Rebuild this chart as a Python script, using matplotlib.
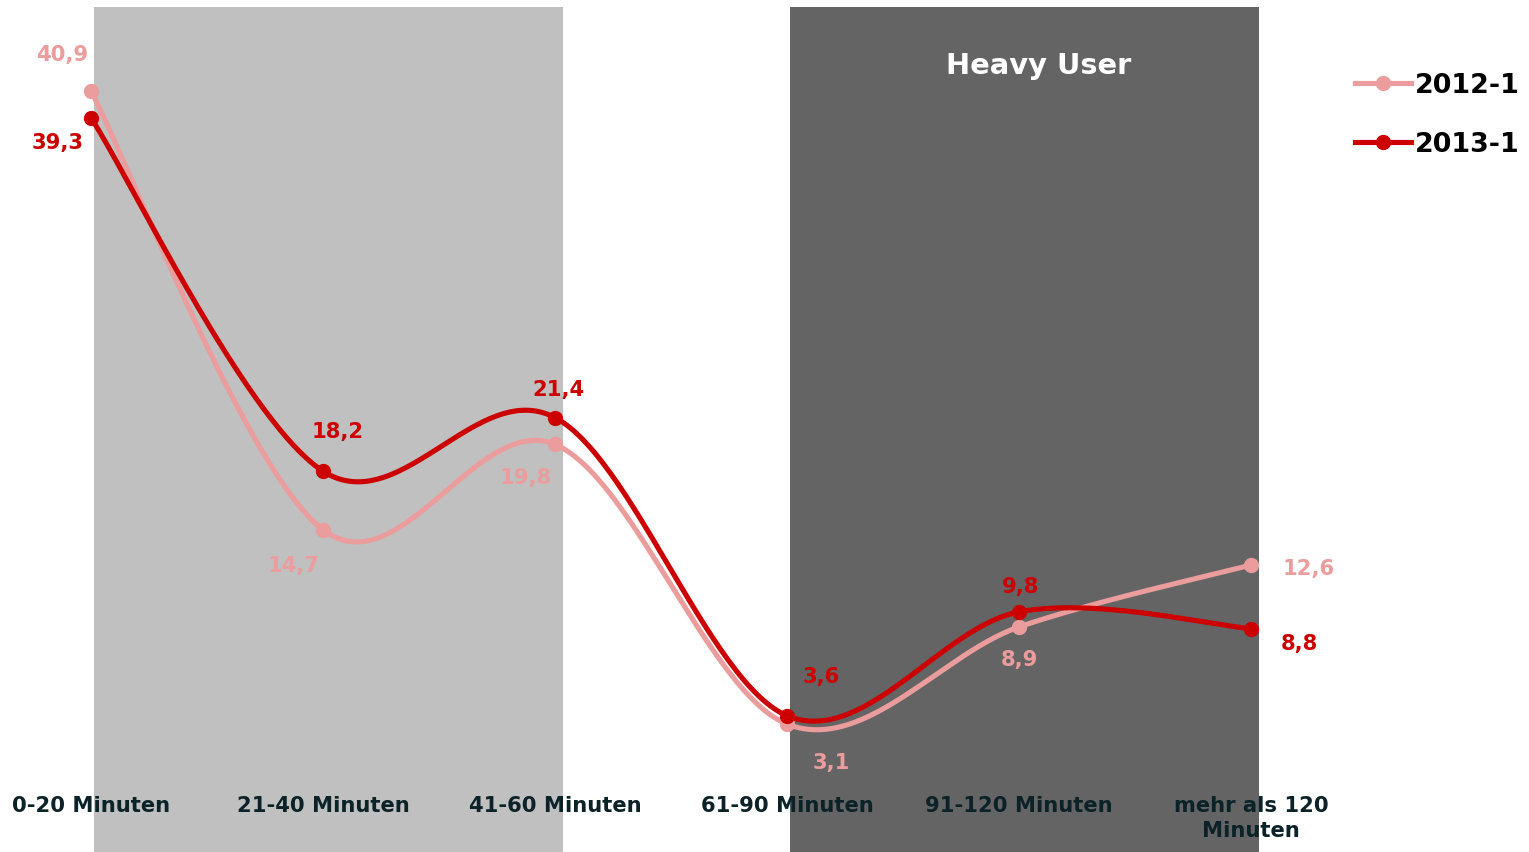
import numpy as np
import matplotlib
matplotlib.use("Agg")
import matplotlib.pyplot as plt
from matplotlib.lines import Line2D

plt.rcParams['font.family'] = ['DejaVu Sans']

categories = ["0-20 Minuten", "21-40 Minuten", "41-60 Minuten",
              "61-90 Minuten", "91-120 Minuten", "mehr als 120\nMinuten"]
series_2012 = [40.9, 14.7, 19.8, 3.1, 8.9, 12.6]
series_2013 = [39.3, 18.2, 21.4, 3.6, 9.8, 8.8]
series_names = ["2012-1", "2013-1"]

C12 = "#eb9c9c"
C13 = "#cc0000"
TICK_C = "#0b2228"


def smooth(xs, ys, n=60):
    """Cubic Bezier smoothing through every point (Catmull-Rom style, tension 1/6)."""
    P = np.column_stack([xs, ys]).astype(float)
    out = []
    m = len(P)
    for i in range(m - 1):
        p0 = P[i - 1] if i > 0 else P[i]
        p1, p2 = P[i], P[i + 1]
        p3 = P[i + 2] if i + 2 < m else P[i + 1]
        c1 = p1 + (p2 - p0) / 6.0
        c2 = p2 - (p3 - p1) / 6.0
        t = np.linspace(0, 1, n)[:, None]
        seg = ((1 - t) ** 3) * p1 + 3 * ((1 - t) ** 2) * t * c1 \
            + 3 * (1 - t) * t ** 2 * c2 + t ** 3 * p2
        out.append(seg if i == 0 else seg[1:])
    return np.vstack(out)


fig = plt.figure(figsize=(15.29, 8.52), dpi=100)
ax = fig.add_axes([0, 0, 1, 1])
ax.set_xlim(-0.392, 6.198)
ax.set_ylim(-4.537, 46.33)
for s in ax.spines.values():
    s.set_visible(False)
ax.set_yticks([])

x = np.arange(len(categories))

# background bands
ax.axvspan(0.013, 2.034, ymin=0, ymax=0.9918, color="#c0c0c0", lw=0, zorder=0)
ax.axvspan(3.013, 5.034, ymin=0, ymax=0.9918, color="#646464", lw=0, zorder=0)
ax.text(4.086, 0.922, "Heavy User", transform=ax.get_xaxis_transform(),
        ha="center", va="center", color="white", fontsize=20.8, fontweight="bold")

for ys, col, z in [(series_2012, C12, 3), (series_2013, C13, 4)]:
    curve = smooth(x, ys)
    ax.plot(curve[:, 0], curve[:, 1], color=col, lw=3.7, solid_capstyle="round", zorder=z)
    ax.plot(x, ys, ls="none", marker="o", ms=10, color=col, zorder=z + 0.5)

# value labels (offsets in pixels)
off_2012 = [(-29, 36), (-29, -36), (-29, -34), (44, -39), (0, -33), (58, -4)]
off_2013 = [(-33, -25), (15, 39), (3, 28), (34, 39), (2, 25), (48, -15)]
for ys, offs, col in [(series_2012, off_2012, C12), (series_2013, off_2013, C13)]:
    for xi, yi, (dx, dy) in zip(x, ys, offs):
        ax.annotate(f"{yi:.1f}".replace(".", ","), (xi, yi), xytext=(dx, dy),
                    textcoords="offset pixels", ha="center", va="center",
                    color=col, fontsize=15.2, fontweight="bold", zorder=6)

# category axis
ax.set_xticks(x)
ax.set_xticklabels(categories, fontsize=15.2, fontweight="bold", color=TICK_C,
                   linespacing=1.3)
ax.tick_params(axis="x", length=0, pad=-40.5)
for lab in ax.get_xticklabels():
    lab.set_zorder(7)

handles = [Line2D([], [], color=C12, lw=3.7, marker="o", ms=10),
           Line2D([], [], color=C13, lw=3.7, marker="o", ms=10)]
leg = ax.legend(handles, series_names, loc="upper right", bbox_to_anchor=(1.0065, 0.937),
                frameon=False, handlelength=2.1, handletextpad=0.15,
                labelspacing=1.23, borderaxespad=0.3,
                prop={"size": 19.4, "weight": "bold"})

fig.savefig("out.png", dpi=100, facecolor="white")
